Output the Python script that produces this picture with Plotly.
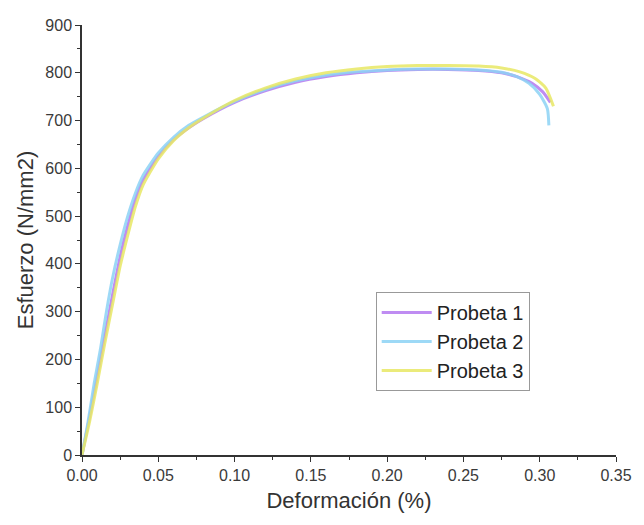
import plotly.graph_objects as go

# Data
p1_x = [0, 0.005, 0.010, 0.015, 0.020, 0.025, 0.030, 0.035, 0.040, 0.050, 0.060, 0.070, 0.080, 0.100,
        0.120, 0.140, 0.160, 0.180, 0.200, 0.220, 0.240, 0.260, 0.275, 0.285, 0.295, 0.302, 0.307]
p1_y = [0, 80, 165, 250, 335, 415, 480, 535, 575, 625, 660, 685, 705, 738,
        762, 780, 792, 800, 805, 807, 807, 805, 800, 792, 778, 760, 738]

p2_x = [0, 0.004, 0.008, 0.012, 0.016, 0.020, 0.025, 0.030, 0.035, 0.040, 0.050, 0.060, 0.070, 0.080,
        0.100, 0.120, 0.140, 0.160, 0.180, 0.200, 0.220, 0.240, 0.260, 0.275, 0.285, 0.293, 0.300, 0.305, 0.306]
p2_y = [0, 70, 150, 220, 300, 370, 440, 500, 548, 585, 632, 665, 690, 708,
        740, 765, 783, 795, 802, 806, 808, 808, 806, 801, 792, 778, 755, 725, 690]

p3_x = [0, 0.005, 0.010, 0.015, 0.020, 0.025, 0.030, 0.035, 0.040, 0.050, 0.060, 0.070, 0.080, 0.100,
        0.120, 0.140, 0.160, 0.180, 0.200, 0.220, 0.240, 0.260, 0.275, 0.287, 0.297, 0.304, 0.309]
p3_y = [0, 70, 150, 235, 315, 395, 460, 520, 565, 620, 658, 685, 706, 742,
        768, 787, 800, 808, 813, 815, 815, 814, 810, 802, 788, 768, 730]

series = [
    ("Probeta 1", p1_x, p1_y, "rgba(180,120,240,0.85)"),
    ("Probeta 2", p2_x, p2_y, "rgba(140,210,245,0.85)"),
    ("Probeta 3", p3_x, p3_y, "rgba(232,232,100,0.85)"),
]

fig = go.Figure()
for name, xs, ys, col in series:
    fig.add_trace(go.Scatter(x=xs, y=ys, mode="lines", name=name,
                             line=dict(color=col, width=3, shape="spline", smoothing=0.6)))

axis_common = dict(
    showline=True, linecolor="#333333", linewidth=1.5,
    ticks="outside", ticklen=5, tickwidth=1.2, tickcolor="#333333",
    showgrid=False, zeroline=False, mirror=False,
    tickfont=dict(family="Liberation Sans, Arial, sans-serif", size=16, color="#3a3a3a"),
)

fig.update_layout(
    width=644, height=525,
    paper_bgcolor="white", plot_bgcolor="white",
    margin=dict(l=82, r=22, t=25, b=70),
    font=dict(family="Liberation Sans, Arial, sans-serif", color="#333333"),
    xaxis=dict(range=[0, 0.35], dtick=0.05, tickformat=".2f",
               minor=dict(ticks="outside", ticklen=3, dtick=0.025, tickcolor="#333333"),
               title=dict(text="Deformación (%)", font=dict(size=22, color="#333333"), standoff=10),
               **axis_common),
    yaxis=dict(range=[0, 900], dtick=100,
               minor=dict(ticks="outside", ticklen=3, dtick=50, tickcolor="#333333"),
               title=dict(text="Esfuerzo (N/mm2)", font=dict(size=22, color="#333333"), standoff=6),
               **axis_common),
    legend=dict(x=0.55, y=0.379, xanchor="left", yanchor="top",
                bgcolor="white", bordercolor="#999999", borderwidth=1,
                font=dict(size=20, color="#222222"), tracegroupgap=0,
                itemwidth=50),
    showlegend=True,
)

fig.write_html("out.html")
